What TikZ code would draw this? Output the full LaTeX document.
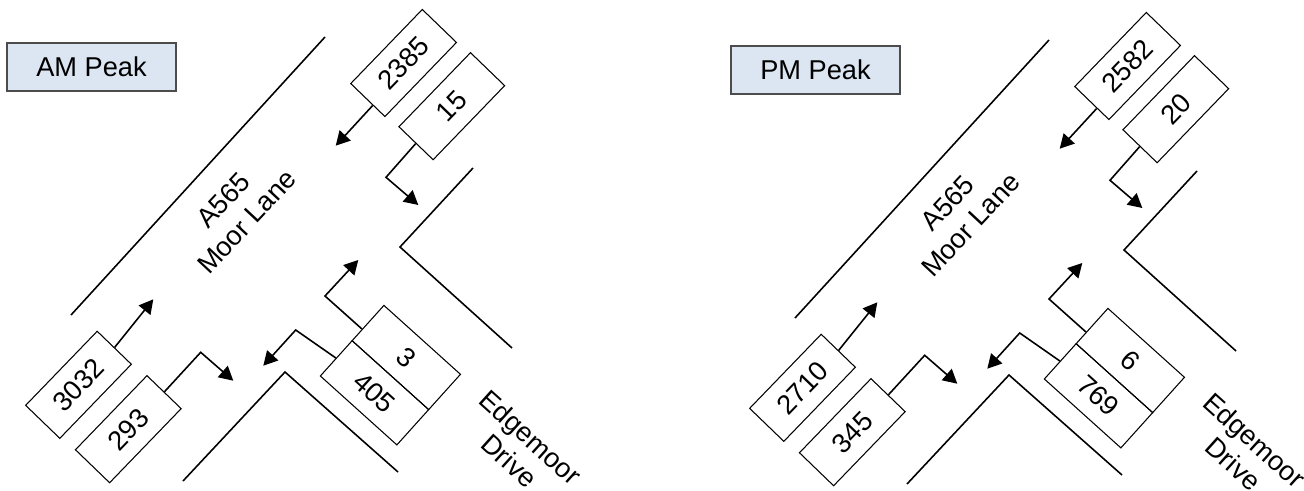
\documentclass[tikz,border=0pt]{standalone}
\usepackage{fontspec}
\setmainfont{Liberation Sans}
\usepackage{xcolor}
\usetikzlibrary{arrows.meta, calc}

\definecolor{peakblue}{HTML}{DCE6F2}
\tikzset{
    road/.style={line width=0.9pt},
    flowbox/.style={draw, line width=0.6pt, minimum width=2.06cm, minimum height=0.95cm,
        inner sep=0pt, font=\fontsize{15.5}{18.5}\selectfont},
    flow/.style={line width=0.9pt, -{Triangle[length=8pt, width=8.5pt]}},
    peak/.style={draw=black!70, line width=0.7pt, fill=peakblue, minimum width=3.38cm,
        minimum height=0.96cm, font=\fontsize{15.5}{18.5}\selectfont},
    roadname/.style={align=center, font=\fontsize{15.5}{18}\selectfont}
}

\begin{document}
\begin{tikzpicture}[x=0.02cm, y=-0.02cm]
    \useasboundingbox (0,0) rectangle (1304,490);
    \foreach \dx/\dy/\pk/\qa/\qb/\qc/\qd/\qe/\qf in
        {0/0/AM/2385/15/3032/293/3/405, 724/3/PM/2582/20/2710/345/6/769} {
    \begin{scope}[shift={(\dx,\dy)}]
        \node[peak] (peak) at (91.5,67) {\pk\ Peak};
        % kerbs
        \draw[road] (325,37) -- (71,315);
        \draw[road] (473,168) -- (400,247) -- (512,348);
        \draw[road] (183,481) -- (285,372) -- (398,472);
        \node[roadname, rotate=47] (moor) at (235,211) {A565\\Moor Lane};
        \node[roadname, rotate=-42] (edge) at (520,449) {Edgemoor\\Drive};
        % turning counts
        \node[flowbox, rotate=46] (neahead) at (403.6,63) {\qa};
        \node[flowbox, rotate=46] (neleft) at (451.8,106.2) {\qb};
        \node[flowbox, rotate=46] (swahead) at (78.5,384.8) {\qc};
        \node[flowbox, rotate=46] (swright) at (128.3,429.2) {\qd};
        \node[flowbox, rotate=-42] (edright) at (406.3,357.5) {\qe};
        \node[flowbox, rotate=-42] (edleft) at (374.5,392.8) {\qf};
        \coordinate (neaheadend) at (335.7,145.7);
        \coordinate (neleftend) at (418.3,205);
        \coordinate (swaheadend) at (153.3,299.3);
        \coordinate (swrightend) at (233.3,380.7);
        \coordinate (edrightend) at (358.3,260);
        \coordinate (edleftend) at (263.3,365.7);
        \draw[flow] ($(neahead.west)!0.3!(neahead.south west)$) -- (neaheadend);
        \draw[flow] (neleft.west) -- (386,177.3) -- (neleftend);
        \draw[flow] (swahead.east) -- (swaheadend);
        \draw[flow] (swright.east) -- (200.7,352.3) -- (swrightend);
        \draw[flow] ($(edright.west)!0.35!(edright.south west)$) -- (325,296) -- (edrightend);
        \draw[flow] (edleft.west) -- (295.7,330) -- (edleftend);
    \end{scope}
    }
\end{tikzpicture}
\end{document}
